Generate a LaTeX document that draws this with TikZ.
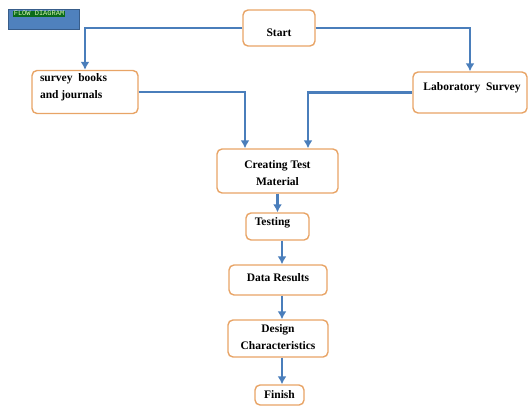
\documentclass[tikz,border=0pt]{standalone}
\usepackage{fontspec}
\setmainfont{Liberation Serif}
\newfontfamily\monof{Liberation Mono}
\usetikzlibrary{arrows.meta}
\definecolor{boxor}{HTML}{E8A466}
\definecolor{arrblue}{HTML}{4A7EBB}
\definecolor{lblblue}{HTML}{4F81BD}
\definecolor{lbldark}{HTML}{385D8A}
\definecolor{lblgreen}{HTML}{0B6B1A}
\definecolor{lbltext}{HTML}{D8F5B0}
\tikzset{
  fbox/.style={draw=boxor, line width=1.4pt, rounded corners=5pt, fill=white,
    font=\bfseries\fontsize{11.5}{17}\selectfont, align=center, inner sep=2pt},
  conn/.style={draw=arrblue, line width=2.8pt, -{Latex[length=8pt,width=9pt]}},
}
\newcommand{\upby}[2]{\raisebox{#1}[0pt][0pt]{#2}}
\newcommand{\mlines}[3]{\raisebox{#1}[0pt][0pt]{$\vcenter{\hbox{\begin{tabular}{@{}#2@{}}#3\end{tabular}}}$}}
\begin{document}
\begin{tikzpicture}[x=1pt,y=-1pt]
\useasboundingbox (0,0) rectangle (529,407);
% label
\node[fill=lblblue, draw=lbldark, line width=0.6pt, minimum width=71pt, minimum height=20pt, inner sep=0pt] (lbl) at (43.5,19) {};
\node[fill=lblgreen, text=lbltext, font=\monof\fontsize{7}{8}\selectfont, inner sep=0.6pt, anchor=north west] (lbltxt) at (13,10.5) {FLOW DIAGRAM};
% boxes
\node[fbox, minimum width=72pt, minimum height=36pt] (start) at (279,28) {\upby{-8pt}{Start}};
\node[fbox, minimum width=106pt, minimum height=43pt] (survey) at (85,92) {\makebox[90pt][l]{\mlines{2.1pt}{l}{survey\ \ books\\and journals}}};
\node[fbox, minimum width=114pt, minimum height=41pt] (lab) at (470,92.5) {\upby{2pt}{\hspace*{4pt}Laboratory\ \ Survey}};
\node[fbox, minimum width=121pt, minimum height=44pt] (create) at (277.5,171) {\mlines{-5.4pt}{c}{Creating Test\\Material}};
\node[fbox, minimum width=63pt, minimum height=27pt] (test) at (277.5,226.5) {\upby{1.5pt}{\hspace*{-10pt}Testing}};
\node[fbox, minimum width=98pt, minimum height=30pt] (data) at (278,280) {\upby{-1.5pt}{Data Results}};
\node[fbox, minimum width=100pt, minimum height=37pt] (design) at (278,338.5) {\mlines{-1.9pt}{c}{Design\\Characteristics}};
\node[fbox, minimum width=49pt, minimum height=20pt] (finish) at (279.5,395) {Finish};
% connectors
\draw[conn] (start.west) -| (survey.north);
\draw[conn] (start.east) -| (lab.north);
\draw[conn] (survey.east) -| ([xshift=-32.5pt]create.north);
\draw[conn] (lab.west) -| ([xshift=30.5pt]create.north);
\draw[conn] (create.south) -- (test.north);
\draw[conn] ([xshift=4.5pt]test.south) -- ([xshift=4.5pt]test.south |- data.north);
\draw[conn] ([xshift=4pt]data.south) -- ([xshift=4pt]data.south |- design.north);
\draw[conn] ([xshift=4pt]design.south) -- ([xshift=4pt]design.south |- finish.north);
\end{tikzpicture}
\end{document}
